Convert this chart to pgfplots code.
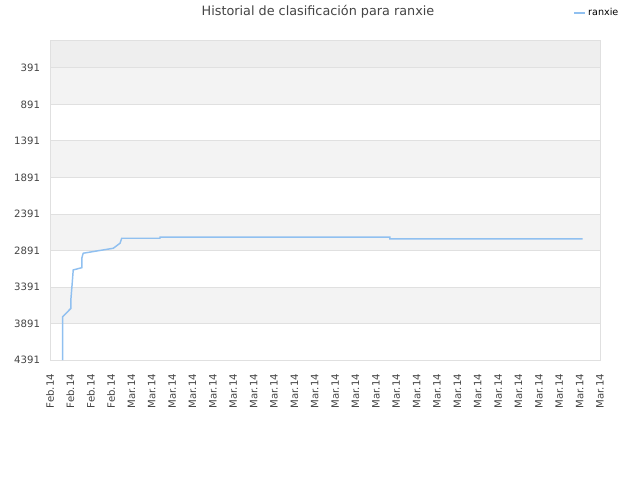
\documentclass[border=0pt]{standalone}
\usepackage{pgfplots}
\pgfplotsset{compat=1.18}
\usepackage{fontspec}
\setmainfont{DejaVu Sans}
\definecolor{linecol}{RGB}{144,192,240}
\definecolor{gridcol}{RGB}{224,224,224}
\definecolor{bandA}{RGB}{238,238,238}
\definecolor{bandB}{RGB}{243,243,243}
\definecolor{labcol}{RGB}{68,68,68}
\begin{document}
\begin{tikzpicture}[x=1pt,y=1pt]
\useasboundingbox (0,0) rectangle (480,360);
% background bands (behind the axis grid)
\fill[bandA] (37.5,309.13) rectangle (450,330);
\fill[bandB] (37.5,281.74) rectangle (450,309.13);
\fill[bandB] (37.5,226.95) rectangle (450,254.35);
\fill[bandB] (37.5,172.17) rectangle (450,199.56);
\fill[bandB] (37.5,117.39) rectangle (450,144.78);
\node[font=\fontsize{9.6}{11}\selectfont, text=labcol] at (238.5,351) {Historial de clasificación para ranxie};
\begin{axis}[
  at={(37.5pt,90pt)}, anchor=south west,
  scale only axis, width=412.5pt, height=240pt,
  xmin=0, xmax=27, ymin=10, ymax=4391,
  y dir=reverse,
  axis line style={gridcol},
  major tick length=0pt,
  xtick={0,...,27},
  xticklabels={Feb.14,Feb.14,Feb.14,Feb.14,Mar.14,Mar.14,Mar.14,Mar.14,Mar.14,Mar.14,Mar.14,Mar.14,Mar.14,Mar.14,Mar.14,Mar.14,Mar.14,Mar.14,Mar.14,Mar.14,Mar.14,Mar.14,Mar.14,Mar.14,Mar.14,Mar.14,Mar.14,Mar.14},
  x tick label style={rotate=90, anchor=east, font=\fontsize{7.6}{9}\selectfont, text=labcol},
  xticklabel shift=7pt,
  ytick={391,891,1391,1891,2391,2891,3391,3891,4391},
  y tick label style={font=\fontsize{7.6}{9}\selectfont, text=labcol},
  yticklabel shift=4pt,
  /pgf/number format/assume math mode=true,
  yticklabel style={/pgf/number format/.cd, fixed, 1000 sep={}},
  ymajorgrids, major grid style={gridcol, line width=0.6pt},
  legend style={draw=none, fill=none, at={(0.995,1.084)}, anchor=center,
    font=\fontsize{7.2}{9}\selectfont},
  legend image code/.code={\draw[#1] (0pt,0pt) -- (8pt,0pt);},
]
\addplot[linecol, line width=1.1pt] coordinates {
(0.62,4391) (0.62,3798) (1.03,3683) (1.03,3546) (1.09,3340) (1.14,3158)
(1.56,3127) (1.56,2998) (1.63,2929) (3.11,2861) (3.44,2792) (3.52,2724)
(5.40,2724) (5.40,2710) (16.69,2710) (16.69,2734) (26.15,2734)
};
\addlegendentry{ranxie}
\end{axis}
\end{tikzpicture}
\end{document}
